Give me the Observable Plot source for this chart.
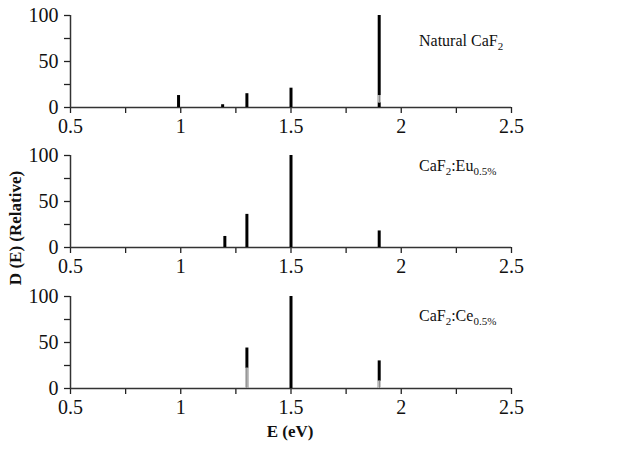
<!DOCTYPE html>
<html>
<head>
<meta charset="utf-8">
<script src="https://cdn.jsdelivr.net/npm/d3@7"></script>
<script src="https://cdn.jsdelivr.net/npm/@observablehq/plot@0.6"></script>
<style>
  html, body { margin: 0; padding: 0; background: white; }
  #wrap { position: relative; width: 629px; height: 450px; overflow: hidden; font-family: "Liberation Serif", serif; color: #111; }
  .panel { position: absolute; left: 0; }
  .lab { position: absolute; font-size: 16px; line-height: 1; white-space: nowrap; }
  .lab sub { font-size: 11px; vertical-align: -4px; line-height: 0; }
  #ytitle { position: absolute; font-weight: bold; font-size: 17px; white-space: nowrap; transform: translate(-50%, -50%) rotate(-90deg); left: 16px; top: 228px; }
  #xtitle { position: absolute; font-weight: bold; font-size: 17px; white-space: nowrap; transform: translate(-50%, -50%); left: 290px; top: 432px; }
</style>
</head>
<body>
<div id="wrap"></div>
<script>
// ---- data ----
const xTicks = [0.5, 0.75, 1, 1.25, 1.5, 1.75, 2, 2.25, 2.5];
const yTicks = [0, 25, 50, 75, 100];

const natE = [0.99, 1.19, 1.3, 1.5, 1.9];
const natD = [13, 3, 15, 21, 100];
const natGrayE = [1.9];
const natGrayLo = [5];
const natGrayHi = [13];

const euE = [1.2, 1.3, 1.5, 1.9];
const euD = [12, 36, 100, 18];
const euGrayE = [];
const euGrayLo = [];
const euGrayHi = [];

const ceE = [1.3, 1.5, 1.9];
const ceD = [44, 100, 30];
const ceGrayE = [1.3, 1.9];
const ceGrayLo = [0, 0];
const ceGrayHi = [22, 8];

const panelTops = [0, 140, 281];

function panel(E, D, gE, gLo, gHi) {
  const bars = E.map((e, i) => ({e, lo: 0, hi: D[i]}));
  const gray = gE.map((e, i) => ({e, lo: gLo[i], hi: gHi[i]}));
  return Plot.plot({
    width: 629, height: 140,
    marginTop: 15, marginBottom: 33, marginLeft: 70, marginRight: 118,
    x: {domain: [0.5, 2.5]},
    y: {domain: [0, 100]},
    style: {fontFamily: "Liberation Serif", fontSize: "20px", color: "#222", background: "white", overflow: "visible"},
    marks: [
      Plot.axisX({ticks: xTicks, tickFormat: d => (d * 2) % 1 === 0 ? String(d) : "", tickSize: 6, tickPadding: 5, strokeWidth: 1.3, fill: "#111", label: null}),
      Plot.axisY({ticks: yTicks, tickFormat: d => d % 50 === 0 ? String(d) : "", tickSize: 6, tickPadding: 6, strokeWidth: 1.3, fill: "#111", label: null}),
      Plot.ruleY([0], {stroke: "#333", strokeWidth: 1.5}),
      Plot.ruleX([0.5], {stroke: "#333", strokeWidth: 1.5}),
      Plot.ruleX(bars, {x: "e", y1: "lo", y2: "hi", stroke: "black", strokeWidth: 3}),
      Plot.ruleX(gray, {x: "e", y1: "lo", y2: "hi", stroke: "white", strokeWidth: 3}),
      Plot.ruleX(gray, {x: "e", y1: "lo", y2: "hi", stroke: "#8c8c8c", strokeWidth: 1.6})
    ]
  });
}

const wrap = document.getElementById("wrap");
const charts = [
  panel(natE, natD, natGrayE, natGrayLo, natGrayHi),
  panel(euE, euD, euGrayE, euGrayLo, euGrayHi),
  panel(ceE, ceD, ceGrayE, ceGrayLo, ceGrayHi)
];
charts.forEach((c, i) => {
  const d = document.createElement("div");
  d.className = "panel";
  d.style.top = panelTops[i] + "px";
  d.appendChild(c);
  wrap.appendChild(d);
});

const labels = [
  {html: "Natural CaF<sub>2</sub>", top: 33},
  {html: "CaF<sub>2</sub>:Eu<sub>0.5%</sub>", top: 158},
  {html: "CaF<sub>2</sub>:Ce<sub>0.5%</sub>", top: 308}
];
labels.forEach(l => {
  const d = document.createElement("div");
  d.className = "lab";
  d.style.left = "419px";
  d.style.top = l.top + "px";
  d.innerHTML = l.html;
  wrap.appendChild(d);
});

const yt = document.createElement("div");
yt.id = "ytitle";
yt.textContent = "D (E) (Relative)";
wrap.appendChild(yt);
const xt = document.createElement("div");
xt.id = "xtitle";
xt.textContent = "E (eV)";
wrap.appendChild(xt);
</script>
</body>
</html>
